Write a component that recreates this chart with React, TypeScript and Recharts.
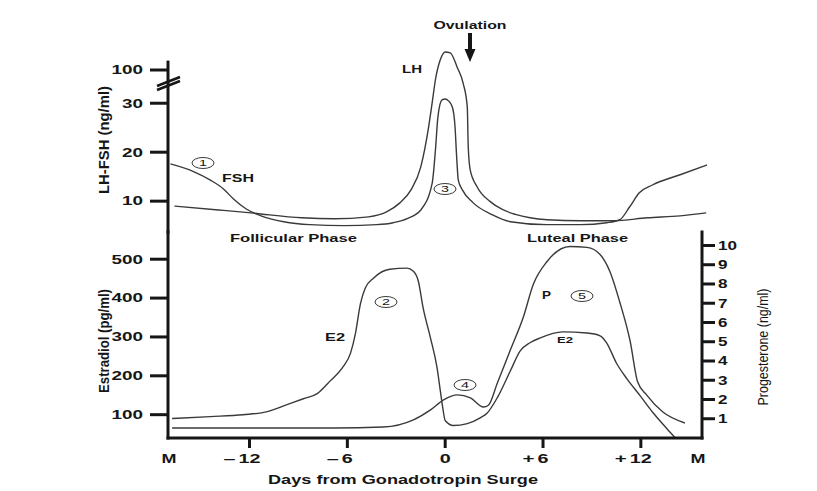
import { ComposedChart, Line, XAxis, YAxis, ReferenceLine } from "recharts";

const FONT = "'Liberation Sans', Arial, sans-serif";
const INK = "#161616";
const CURVE = "#3a3a3a";

// days from the gonadotropin surge, "M" (menses) at both ends
const X_TICKS = [-17, -12, -6, 0, 6, 12, 15.75];
const X_DOMAIN = [-17, 15.75];
const TOP_X_DOMAIN = [-17, 16.05];

// LH / FSH (ng/ml) - the axis is broken above 30
const GONAD_TICKS = [10, 20, 30, 100];
const BREAK_AT = 30;
const SQUEEZE = 0.097;

const FSH_DAYS = [
  -16.85, -15.4, -14.4, -13.6, -13.0, -12.2, -11.3, -9.9, -8.3, -6.2, -4.2, -3.2, -2.3, -1.5,
  -0.8, -0.6, -0.45, -0.2, 0.0, 0.2, 0.43, 0.6, 0.7, 0.8, 1.05, 1.7, 2.9, 4.0, 6.2, 8.3, 9.9,
  10.7, 11.3, 11.9, 12.7, 14.4, 16.05
];
const FSH_NGML = [
  17.6, 16.0, 14.3, 12.5, 10.5, 8.4, 7.0, 5.8, 5.2, 5.0, 5.2, 5.6, 6.5, 8.2, 13.7, 20.5, 27.2,
  37, 39, 35, 29.3, 25.2, 19.0, 14.3, 12.3, 9.7, 7.2, 5.8, 5.2, 5.2, 5.6, 6.2, 8.8, 11.7, 13.3,
  15.4, 17.4
];

const LH_DAYS = [
  -16.6, -13.9, -11.9, -8.8, -6.8, -4.7, -3.6, -2.8, -2.1, -1.5, -1.05, -0.8, -0.6, -0.31, 0.0,
  0.31, 0.73, 1.1, 1.35, 1.41, 1.53, 1.96, 2.76, 3.5, 4.3, 5.2, 6.25, 8.3, 10.3, 12.4, 14.4, 16.0
];
const LH_NGML = [
  9.0, 8.2, 7.6, 6.6, 6.4, 6.8, 7.8, 9.6, 12.3, 17.0, 24.5, 31.5, 80, 121, 138, 136, 106, 72,
  29.3, 21.1, 16.4, 12.9, 9.9, 8.3, 7.3, 6.6, 6.2, 6.0, 6.0, 6.6, 7.0, 7.6
];

// estradiol (pg/ml)
const E2_TICKS = [100, 200, 300, 400, 500];
const E2_DAYS = [
  -16.75, -14.4, -12.4, -10.9, -9.7, -8.7, -7.85, -7.05, -6.3, -5.8, -5.5, -5.2, -4.9, -4.4,
  -3.4, -2.35, -1.95, -1.65, -1.35, -0.9, -0.5, -0.3, -0.15, 0.0, 0.5, 1.35, 2.15, 2.55, 3.2,
  4.0, 4.6, 5.2, 5.8, 7.2, 8.7, 9.5, 9.9, 10.5, 11.15, 11.95, 12.75, 13.6, 14.1
];
const E2_PGML = [
  90, 95, 100, 108, 126, 141, 154, 187, 221, 259, 310, 385, 426, 451, 474, 477, 469, 444, 374,
  297, 221, 162, 118, 85, 72, 77, 92, 103, 144, 213, 264, 285, 297, 313, 310, 303, 285, 233,
  192, 149, 105, 64, 41
];

// progesterone (ng/ml)
const P_TICKS = [1, 2, 3, 4, 5, 6, 7, 8, 9, 10];
const P_DAYS = [
  -16.75, -11.9, -6.85, -3.8, -1.95, -0.9, -0.1, 0.75, 1.55, 2.35, 2.65, 3.2, 4.0, 4.8, 5.4,
  6.25, 7.65, 8.7, 9.5, 10.1, 10.7, 11.35, 11.8, 12.35, 13.35, 14.7
];
const P_NGML = [
  0.52, 0.52, 0.52, 0.57, 0.94, 1.46, 1.98, 2.24, 2.08, 1.61, 1.7, 2.86, 4.58, 6.3, 7.97, 9.17,
  9.95, 9.9, 9.53, 8.65, 7.08, 5.0, 2.92, 2.24, 1.35, 0.78
];

const zip = (days: number[], vals: number[]) => days.map((day, i) => ({ day, value: vals[i] }));

const squeeze = (v: number) => (v <= BREAK_AT ? v : BREAK_AT + (v - BREAK_AT) * SQUEEZE);
const unsqueeze = (v: number) =>
  v <= BREAK_AT + 0.01 ? Math.round(v) : Math.round(BREAK_AT + (v - BREAK_AT) / SQUEEZE);

const fshData = zip(FSH_DAYS, FSH_NGML);
const lhData = zip(LH_DAYS, LH_NGML);
const e2Data = zip(E2_DAYS, E2_PGML);
const pData = zip(P_DAYS, P_NGML);

const axisStroke = { stroke: INK, strokeWidth: 3, strokeLinecap: "square" as const };

function LeftTick(props: any) {
  const { x, y, payload, fmt } = props;
  const label = String(fmt ? fmt(payload.value) : payload.value);
  return (
    <text
      x={x - 5}
      y={y}
      dy="0.36em"
      textAnchor="end"
      fontFamily={FONT}
      fontSize={12}
      fontWeight="bold"
      fill={INK}
      textLength={label.length * 10.5}
      lengthAdjust="spacingAndGlyphs"
    >
      {label}
    </text>
  );
}

function RightTick(props: any) {
  const { x, y, payload } = props;
  const label = String(payload.value);
  return (
    <text
      x={x + 1}
      y={y}
      dy="0.36em"
      textAnchor="start"
      fontFamily={FONT}
      fontSize={12}
      fontWeight="bold"
      fill={INK}
      textLength={label.length * 9.5}
      lengthAdjust="spacingAndGlyphs"
    >
      {label}
    </text>
  );
}

function DayTick(props: any) {
  const { x, y, payload } = props;
  const v = payload.value;
  const txt = { fontFamily: FONT, fontSize: 13, fontWeight: "bold", fill: INK };
  if (v < -16 || v > 15) {
    return (
      <text x={v > 0 ? x - 4 : x + 1} y={y + 15} textAnchor="middle" {...txt} textLength={15} lengthAdjust="spacingAndGlyphs">
        M
      </text>
    );
  }
  const digits = String(Math.abs(v));
  const sign = v < 0 ? "\u2013" : v > 0 ? "+" : "";
  const w = digits.length * 11;
  return (
    <g>
      <line x1={x} x2={x} y1={y - 10} y2={y} stroke={INK} strokeWidth={3} />
      <text x={x} y={y + 15} textAnchor="middle" {...txt} textLength={w} lengthAdjust="spacingAndGlyphs">
        {digits}
      </text>
      {sign && (
        <text x={x - w / 2 - 3} y={y + 15} textAnchor="end" {...txt} textLength={12} lengthAdjust="spacingAndGlyphs">
          {sign}
        </text>
      )}
    </g>
  );
}

function Circled({ cx, cy, n }: { cx: number; cy: number; n: string }) {
  return (
    <g>
      <ellipse cx={cx} cy={cy} rx={11} ry={5.5} fill="white" stroke={CURVE} strokeWidth={1} />
      <text x={cx} y={cy} dy="0.36em" textAnchor="middle" fontFamily={FONT} fontSize={9} fill={INK} textLength={8} lengthAdjust="spacingAndGlyphs">
        {n}
      </text>
    </g>
  );
}

function Label({ x, y, w, size = 11, anchor = "start", children }: any) {
  return (
    <text x={x} y={y} textAnchor={anchor} fontFamily={FONT} fontSize={size} fontWeight="bold" fill={INK} textLength={w} lengthAdjust="spacingAndGlyphs">
      {children}
    </text>
  );
}

function Rotated({ cx, cy, len, bold = true, children }: any) {
  return (
    <text
      transform={`translate(${cx},${cy}) scale(1.4,1) rotate(-90)`}
      textAnchor="middle"
      dy="0.36em"
      fontFamily={FONT}
      fontSize={11}
      fontWeight={bold ? "bold" : "normal"}
      fill={INK}
      textLength={len}
      lengthAdjust="spacingAndGlyphs"
    >
      {children}
    </text>
  );
}

export default function App() {
  return (
    <div style={{ position: "absolute", left: 0, top: 0, width: 817, height: 491, background: "#fff" }}>
      {/* LH / FSH panel */}
      <div style={{ position: "absolute", left: 0, top: 0 }}>
        <ComposedChart width={817} height={240} margin={{ top: 44, right: 110, bottom: 8, left: 0 }}>
          <XAxis type="number" dataKey="day" domain={TOP_X_DOMAIN} hide allowDataOverflow />
          <YAxis
            type="number"
            domain={[3.7, 42.1]}
            width={168}
            ticks={GONAD_TICKS.map(squeeze)}
            interval={0}
            axisLine={false}
            tickLine={{ stroke: INK, strokeWidth: 3 }}
            tickSize={18}
            tick={(p: any) => <LeftTick {...p} fmt={unsqueeze} />}
          />
          <ReferenceLine
            segment={[
              { x: -17, y: 3.7 },
              { x: -17, y: 38.4 }
            ]}
            ifOverflow="visible"
            {...axisStroke}
          />
          <Line data={fshData} dataKey={(d: any) => squeeze(d.value)} type="monotone" stroke={CURVE} strokeWidth={1.4} dot={false} isAnimationActive={false} />
          <Line data={lhData} dataKey={(d: any) => squeeze(d.value)} type="monotone" stroke={CURVE} strokeWidth={1.4} dot={false} isAnimationActive={false} />
        </ComposedChart>
      </div>

      {/* estradiol / progesterone panel */}
      <div style={{ position: "absolute", left: 0, top: 200 }}>
        <ComposedChart width={817} height={291} margin={{ top: 32, right: 0, bottom: 23, left: 0 }}>
          <XAxis
            type="number"
            dataKey="day"
            domain={X_DOMAIN}
            ticks={X_TICKS}
            interval={0}
            height={30}
            axisLine={axisStroke}
            tickLine={false}
            tickSize={10}
            tickMargin={0}
            tick={(p: any) => <DayTick {...p} />}
            allowDataOverflow
          />
          <YAxis
            yAxisId="e2"
            type="number"
            domain={[40, 570]}
            ticks={E2_TICKS}
            interval={0}
            width={168}
            axisLine={axisStroke}
            tickLine={{ stroke: INK, strokeWidth: 3 }}
            tickSize={18}
            tick={(p: any) => <LeftTick {...p} />}
          />
          <YAxis
            yAxisId="p"
            orientation="right"
            type="number"
            domain={[0, 10.7]}
            ticks={P_TICKS}
            interval={0}
            width={115}
            axisLine={axisStroke}
            tickLine={{ stroke: INK, strokeWidth: 3 }}
            tickSize={13}
            tick={(p: any) => <RightTick {...p} />}
          />
          <Line yAxisId="e2" data={e2Data} dataKey="value" type="monotone" stroke={CURVE} strokeWidth={1.4} dot={false} isAnimationActive={false} />
          <Line yAxisId="p" data={pData} dataKey="value" type="monotone" stroke={CURVE} strokeWidth={1.4} dot={false} isAnimationActive={false} />
        </ComposedChart>
      </div>

      {/* labels and marks */}
      <svg width={817} height={491} style={{ position: "absolute", left: 0, top: 0, pointerEvents: "none" }}>
        <Label x={470} y={29} w={73} anchor="middle">Ovulation</Label>
        <rect x={468} y={33} width={4} height={18} fill={INK} />
        <polygon points="464.5,49 475.5,49 470,62" fill={INK} />

        <line x1={157} y1={86} x2={180} y2={77} stroke={INK} strokeWidth={2.5} />
        <line x1={157} y1={90} x2={180} y2={81} stroke={INK} strokeWidth={2.5} />

        <Label x={402} y={73} w={20}>LH</Label>
        <Label x={222} y={182} w={32}>FSH</Label>
        <Label x={230} y={242} w={127}>Follicular Phase</Label>
        <Label x={527} y={242} w={101}>Luteal Phase</Label>
        <Label x={325} y={341} w={20} size={10}>E2</Label>
        <Label x={542} y={299} w={9} size={10}>P</Label>
        <Label x={557} y={343} w={16} size={9}>E2</Label>
        <Label x={403} y={484} w={270} size={13} anchor="middle">Days from Gonadotropin Surge</Label>

        <Circled cx={203} cy={163} n="1" />
        <Circled cx={386} cy={302} n="2" />
        <Circled cx={445} cy={189} n="3" />
        <Circled cx={465} cy={385} n="4" />
        <Circled cx={582} cy={296} n="5" />

        <Rotated cx={103} cy={140} len={108}>LH-FSH (ng/ml)</Rotated>
        <Rotated cx={103} cy={341} len={104}>Estradiol (pg/ml)</Rotated>
        <Rotated cx={762} cy={347} len={117} bold={false}>Progesterone (ng/ml)</Rotated>
      </svg>
    </div>
  );
}
